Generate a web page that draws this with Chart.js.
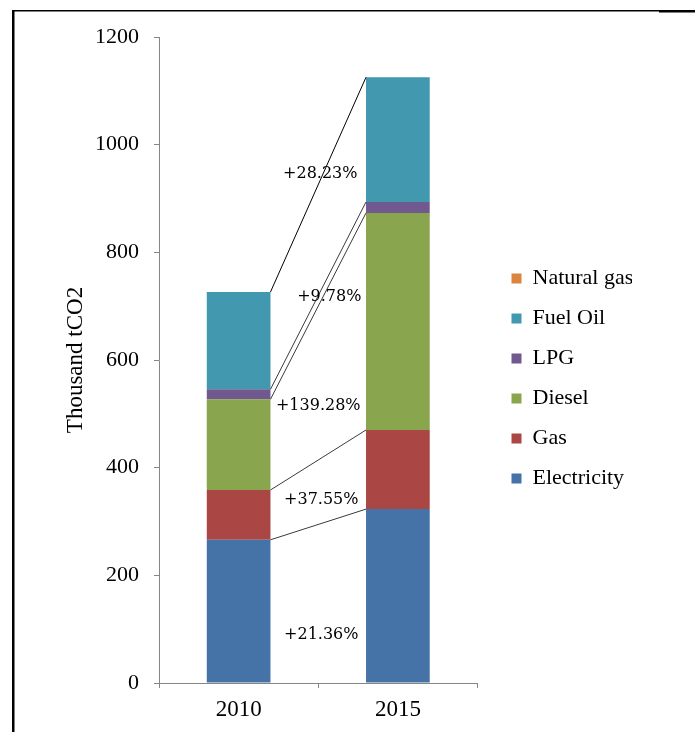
<!DOCTYPE html>
<html>
<head>
<meta charset="utf-8">
<script src="https://cdn.jsdelivr.net/npm/chart.js@4.4.1/dist/chart.umd.min.js"></script>
<style>
  html, body { margin: 0; padding: 0; background: #fff; }
  #wrap { position: relative; width: 695px; height: 732px; }
  canvas { display: block; }
</style>
</head>
<body>
<div id="wrap"><canvas id="c" width="695" height="732"></canvas></div>
<script>
// Emissions by energy source, thousand tCO2
const years = ['2010', '2015'];
const electricity = [266, 323];
const gas = [92.5, 147];
const diesel = [168.5, 403.2];
const lpg = [18.6, 20.4];
const fuelOil = [180.7, 231.7];
const naturalGas = [0, 0];

// Change 2010 -> 2015 for each stacked source (bottom to top)
const changeLabels = ['+21.36%', '+37.55%', '+139.28%', '+9.78%', '+28.23%'];

const yMin = 0, yMax = 1200, yStep = 200;

const serif = '"Liberation Serif", "Times New Roman", serif';

// Lines joining the top of each segment of the first bar to the same segment of the second bar
const connectors = {
  id: 'connectors',
  afterDatasetsDraw(chart, args, opts) {
    const ctx = chart.ctx;
    const yScale = chart.scales.y;
    ctx.save();
    for (let i = 0; i < opts.count; i++) {
      const meta = chart.getDatasetMeta(i);
      const a = meta.data[0], b = meta.data[1];
      const x0 = a.x + a.width / 2, y0 = a.y;
      const x1 = b.x - b.width / 2, y1 = b.y;
      ctx.beginPath();
      ctx.strokeStyle = i === opts.count - 1 ? '#000' : '#3a3a3a';
      ctx.lineWidth = 1;
      ctx.moveTo(x0, y0);
      ctx.lineTo(x1, y1);
      ctx.stroke();
    }
    // change labels between the bars
    const m0 = chart.getDatasetMeta(0);
    const a = m0.data[0], b = m0.data[1];
    const midX = ((a.x + a.width / 2) + (b.x - b.width / 2)) / 2;
    ctx.font = opts.font;
    ctx.fillStyle = '#000';
    ctx.textAlign = 'center';
    ctx.textBaseline = 'middle';
    changeLabels.forEach((t, i) => {
      const p = opts.anchors[i];
      ctx.fillText(t, midX + p.dx, yScale.getPixelForValue(p.v));
    });
    ctx.restore();
  }
};

// Moves the legend block a little away from the plot
const legendNudge = {
  id: 'legendNudge',
  afterLayout(chart, args, opts) {
    const lg = chart.legend;
    if (!lg) return;
    const pad = lg.options.labels.padding;
    const dx = chart.chartArea.right + opts.gap - (lg.left + pad);
    lg.left += dx; lg.right += dx;
    lg.top += opts.dy; lg.bottom += opts.dy;
  }
};

// Outer frame
const frame = {
  id: 'frame',
  afterDraw(chart) {
    const ctx = chart.ctx;
    ctx.save();
    ctx.fillStyle = '#000';
    ctx.fillRect(12, 10, 2.5, 722);
    ctx.fillRect(12, 10, 647, 1.5);
    ctx.fillRect(659, 10, 36, 2.5);
    ctx.restore();
  }
};

new Chart(document.getElementById('c'), {
  type: 'bar',
  data: {
    labels: years,
    datasets: [
      { label: 'Electricity', data: electricity, backgroundColor: '#4572A7' },
      { label: 'Gas', data: gas, backgroundColor: '#AA4643' },
      { label: 'Diesel', data: diesel, backgroundColor: '#89A54E' },
      { label: 'LPG', data: lpg, backgroundColor: '#71588F' },
      { label: 'Fuel Oil', data: fuelOil, backgroundColor: '#4198AF' },
      { label: 'Natural gas', data: naturalGas, backgroundColor: '#DB843D' }
    ]
  },
  options: {
    responsive: false,
    animation: false,
    devicePixelRatio: 1,
    datasets: { bar: { barPercentage: 0.4, categoryPercentage: 1.0, borderWidth: 0 } },
    layout: { padding: { left: 62, right: 79, top: 37, bottom: 0 } },
    scales: {
      x: {
        stacked: true,
        afterFit(scale) { scale.height = 49; },
        grid: { display: true, drawOnChartArea: false, offset: true, tickLength: 5, color: '#868686' },
        border: { color: '#868686' },
        ticks: { color: '#000', font: { family: serif, size: 23 }, padding: 8 }
      },
      y: {
        stacked: true,
        min: yMin, max: yMax,
        afterFit(scale) { scale.width = 97; },
        grid: { display: true, drawOnChartArea: false, tickLength: 5, color: '#868686' },
        border: { color: '#868686' },
        ticks: {
          stepSize: yStep, color: '#000', font: { family: serif, size: 22 }, padding: 15,
          callback: (v) => String(v)
        },
        title: {
          display: true,
          text: 'Thousand tCO2',
          color: '#000',
          font: { family: serif, size: 23 },
          padding: { top: 0, bottom: 0 }
        }
      }
    },
    plugins: {
      legend: {
        position: 'right',
        reverse: true,
        labels: {
          boxWidth: 10, boxHeight: 10, padding: 18,
          color: '#000',
          font: { family: serif, size: 22 }
        }
      },
      tooltip: { enabled: false },
      connectors: {
        count: 5,
        font: '16px "DejaVu Serif", serif',
        anchors: [
          { v: 89, dx: 3 },
          { v: 341, dx: 3 },
          { v: 514, dx: 0 },
          { v: 717, dx: 11 },
          { v: 945, dx: 2 }
        ]
      },
      legendNudge: { gap: 34, dy: -6 }
    }
  },
  plugins: [connectors, legendNudge, frame]
});
</script>
</body>
</html>
